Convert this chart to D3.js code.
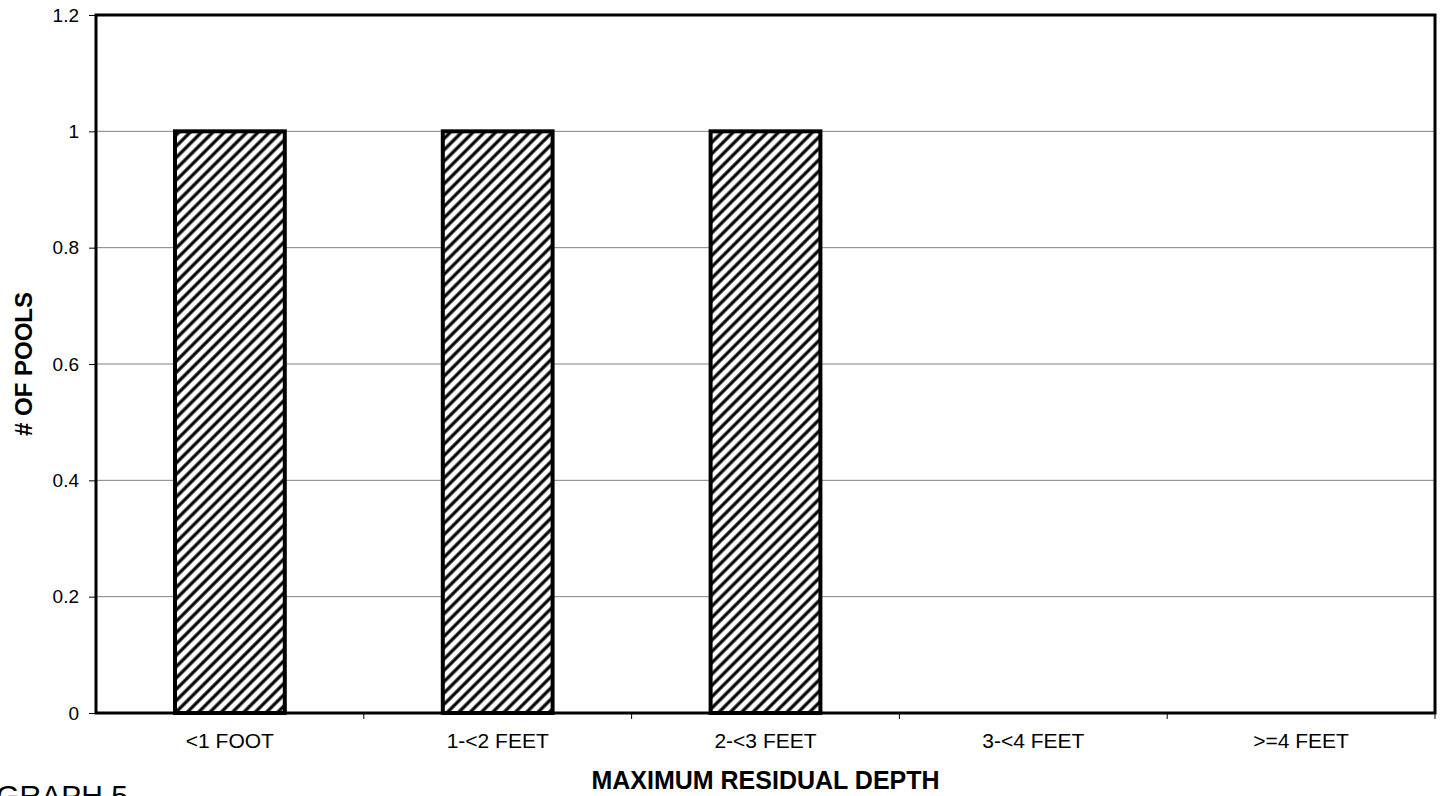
<!DOCTYPE html>
<html>
<head>
<meta charset="utf-8">
<script src="https://cdn.jsdelivr.net/npm/d3@7/dist/d3.min.js"></script>
<style>
  html, body { margin: 0; padding: 0; background: #fff; }
  svg { display: block; }
  text { font-family: "Liberation Sans", Arial, sans-serif; fill: #000; }
</style>
</head>
<body>
<svg id="chart" width="1443" height="796"></svg>
<script>
// Pool counts by maximum residual depth class
const categories = ["<1 FOOT", "1-<2 FEET", "2-<3 FEET", "3-<4 FEET", ">=4 FEET"];
const poolCounts = [1, 1, 1, 0, 0];
const yTicks = [0, 0.2, 0.4, 0.6, 0.8, 1, 1.2];

const width = 1443, height = 796;
const margin = { top: 15, right: 8, bottom: 83, left: 96 };
const svg = d3.select("#chart");

const x = d3.scaleBand()
  .domain(categories)
  .range([margin.left, width - margin.right])
  .paddingInner(0.59)
  .paddingOuter(0.295);

const y = d3.scaleLinear()
  .domain([0, 1.2])
  .range([height - margin.bottom, margin.top]);

// diagonal hatch fill for the bars
const defs = svg.append("defs");
const pat = defs.append("pattern")
  .attr("id", "hatch")
  .attr("patternUnits", "userSpaceOnUse")
  .attr("width", 8).attr("height", 8)
  .attr("patternTransform", "rotate(45)");
pat.append("rect").attr("width", 8).attr("height", 8).attr("fill", "#fff");
pat.append("line")
  .attr("x1", 4).attr("y1", 0).attr("x2", 4).attr("y2", 8)
  .attr("stroke", "#000").attr("stroke-width", 3.2);

// horizontal gridlines
svg.append("g")
  .selectAll("line")
  .data(yTicks.filter(t => t > 0 && t < 1.2))
  .join("line")
  .attr("x1", margin.left).attr("x2", width - margin.right)
  .attr("y1", d => y(d)).attr("y2", d => y(d))
  .attr("stroke", "#808080").attr("stroke-width", 1);

// y axis ticks and labels
const yAxis = d3.axisLeft(y)
  .tickValues(yTicks)
  .tickSize(7)
  .tickPadding(10)
  .tickFormat(d => d3.format("")(+d.toFixed(1)));
const gy = svg.append("g")
  .attr("transform", `translate(${margin.left},0)`)
  .call(yAxis);
gy.select(".domain").remove();
gy.selectAll(".tick line").attr("stroke", "#000");
gy.selectAll(".tick text")
  .style("font-size", "19px")
  .style("font-family", "'Liberation Sans', Arial, sans-serif");

// x axis: ticks between categories
const boundaries = categories.map((c, i) => i === 0 ? null : (x(categories[i - 1]) + x(c) + x.bandwidth()) / 2)
  .filter(v => v !== null)
  .concat([width - margin.right]);
svg.append("g")
  .selectAll("line")
  .data(boundaries)
  .join("line")
  .attr("x1", d => d).attr("x2", d => d)
  .attr("y1", y(0)).attr("y2", y(0) + 6)
  .attr("stroke", "#000").attr("stroke-width", 1);

svg.append("g")
  .selectAll("text")
  .data(categories)
  .join("text")
  .attr("x", d => x(d) + x.bandwidth() / 2)
  .attr("y", 748)
  .attr("text-anchor", "middle")
  .style("font-size", "21px")
  .text(d => d);

// bars
svg.append("g")
  .selectAll("rect")
  .data(categories.map((c, i) => ({ c, v: poolCounts[i] })).filter(d => d.v > 0))
  .join("rect")
  .attr("x", d => x(d.c))
  .attr("y", d => y(d.v))
  .attr("width", x.bandwidth())
  .attr("height", d => y(0) - y(d.v))
  .attr("fill", "url(#hatch)")
  .attr("stroke", "#000")
  .attr("stroke-width", 4);

// plot frame
svg.append("rect")
  .attr("x", margin.left).attr("y", margin.top)
  .attr("width", width - margin.left - margin.right)
  .attr("height", height - margin.top - margin.bottom)
  .attr("fill", "none")
  .attr("stroke", "#000")
  .attr("stroke-width", 3);

// axis titles
svg.append("text")
  .attr("x", (margin.left + width - margin.right) / 2)
  .attr("y", 789)
  .attr("text-anchor", "middle")
  .style("font-size", "25px")
  .style("font-weight", "bold")
  .text("MAXIMUM RESIDUAL DEPTH");

svg.append("text")
  .attr("transform", `translate(32,${(margin.top + height - margin.bottom) / 2}) rotate(-90)`)
  .attr("text-anchor", "middle")
  .style("font-size", "24px")
  .style("font-weight", "bold")
  .text("# OF POOLS");

svg.append("text")
  .attr("x", 128)
  .attr("y", 806)
  .attr("text-anchor", "end")
  .style("font-size", "30px")
  .text("GRAPH 5");
</script>
</body>
</html>
